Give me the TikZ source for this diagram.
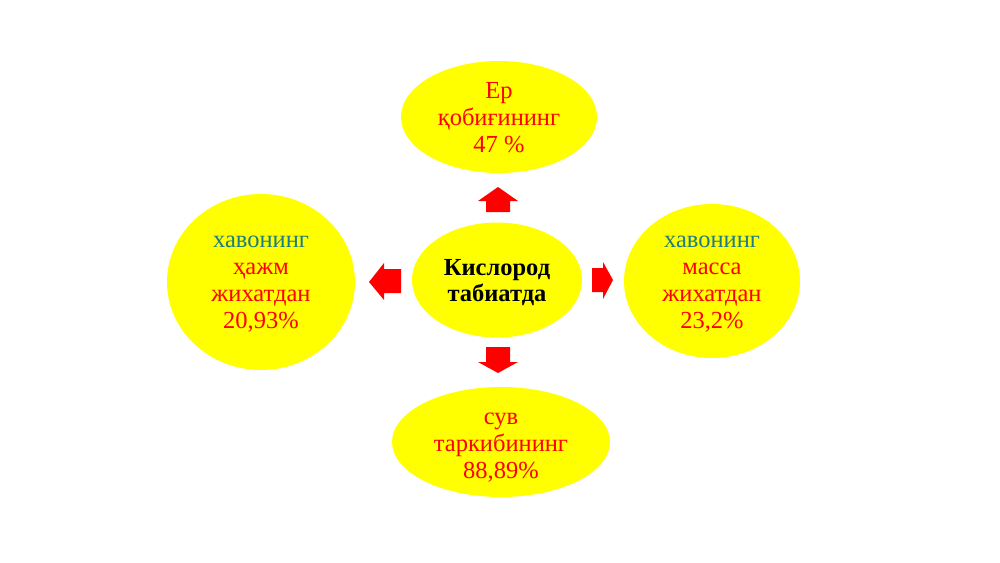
\documentclass[tikz,border=0pt]{standalone}
\usepackage{fontspec}
\setmainfont{Liberation Serif}
\usetikzlibrary{shapes.geometric}
\definecolor{ylw}{RGB}{255,255,0}
\definecolor{rd}{RGB}{255,0,0}
\definecolor{tl}{RGB}{30,125,130}
\tikzset{
  bubble/.style={ellipse, fill=ylw, draw=none, inner sep=0pt},
  txt/.style={align=center, text=rd, inner sep=0pt, font=\fontsize{24.5}{27}\selectfont},
  blockarrow/.style={fill=rd, draw=none}
}
\begin{document}
\begin{tikzpicture}[x=1pt,y=-1pt]
\useasboundingbox (0,0) rectangle (1000,562);
\fill[white] (0,0) rectangle (1000,562);

\node[bubble, minimum width=196pt, minimum height=112pt] (top) at (499,117) {};
\node[txt] (toptxt) at ([yshift=-1pt]top.center) {Ер\\қобиғининг\\47 \%};

\node[bubble, minimum width=188pt, minimum height=176pt] (left) at (261,282) {};
\node[txt] (lefttxt) at ([yshift=-2pt]left.center) {\textcolor{tl}{хавонинг}\\ҳажм\\жихатдан\\20,93\%\hspace{8pt}};

\node[bubble, minimum width=170pt, minimum height=115pt] (center) at (497,280) {};
\node[txt, text=black, font=\fontsize{24.5}{26}\selectfont\bfseries] (centertxt) at ([yshift=-3pt]center.center) {Кислород\\табиатда};

\node[bubble, minimum width=176pt, minimum height=154pt] (right) at (712,281) {};
\node[txt] (righttxt) at ([yshift=-3pt]right.center) {\textcolor{tl}{хавонинг}\\масса\\жихатдан\\23,2\%};

\node[bubble, minimum width=218pt, minimum height=110pt] (bottom) at (501,442) {};
\node[txt] (bottomtxt) at ([yshift=-6pt]bottom.center) {сув\\таркибининг\\88,89\%};

% block arrows
\fill[blockarrow] (486,212) -- (486,201) -- (478,201) -- (498,187) -- (518,201) -- (510,201) -- (510,212) -- cycle;
\fill[blockarrow] (486,347) -- (510,347) -- (510,362) -- (518,362) -- (498,373) -- (478,362) -- (486,362) -- cycle;
\fill[blockarrow] (401,269) -- (384,269) -- (384,263) -- (369,282) -- (384,300) -- (384,293) -- (401,293) -- cycle;
\fill[blockarrow] (592,268) -- (603,268) -- (603,262) -- (613,280) -- (603,299) -- (603,292) -- (592,292) -- cycle;
\end{tikzpicture}
\end{document}
